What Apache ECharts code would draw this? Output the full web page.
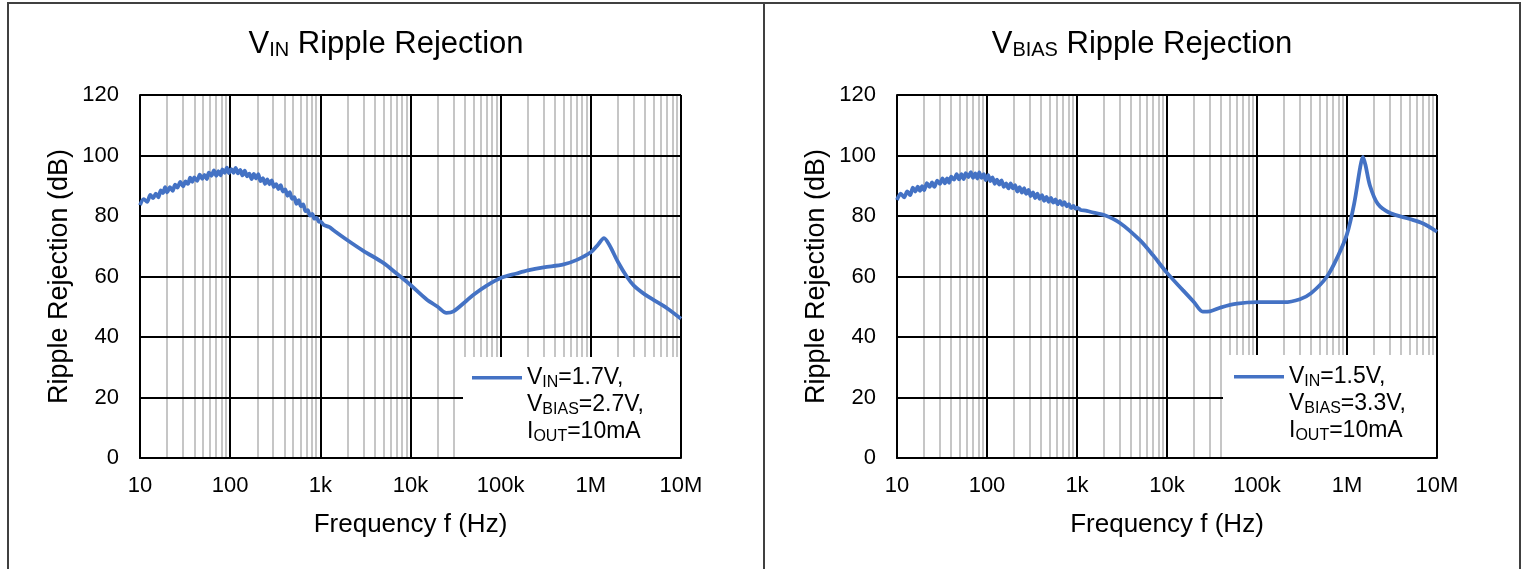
<!DOCTYPE html>
<html>
<head>
<meta charset="utf-8">
<script src="https://cdn.jsdelivr.net/npm/echarts@6/dist/echarts.min.js"></script>
<style>
  html, body { margin: 0; padding: 0; background: #fff; }
  #main { width: 1528px; height: 569px; }
</style>
</head>
<body>
<div id="main"></div>
<script>
// x axis decades and their labels
var xTicks = [10, 100, 1e3, 1e4, 1e5, 1e6, 1e7];
var xTickLabels = ['10', '100', '1k', '10k', '100k', '1M', '10M'];

// shared frequency grid for the noisy low-frequency part (Hz)
var lowFreq = [10, 11, 12, 13, 14, 15, 16, 17, 18, 19, 20, 21.5, 23, 24.5, 26, 28, 30, 32, 34, 36, 38, 40,
  43, 46, 49, 52, 55, 58, 62, 66, 70, 74, 78, 82, 87, 92, 97, 103, 109, 115, 122, 129, 137, 145, 154,
  163, 173, 183, 194, 205, 217, 230, 244, 258, 273, 289, 306, 324, 343, 363, 385, 408, 432, 458, 485,
  514, 544, 576, 610, 646, 684, 725, 768, 813, 861, 912, 966, 1000, 1100, 1250, 1400];

// left chart: VIN ripple rejection (VIN=1.7V, VBIAS=2.7V, IOUT=10mA)
var vinLowDb = [83.6, 85.6, 84.7, 87.0, 85.9, 87.4, 86.2, 88.5, 87.6, 89.5, 87.8, 89.5, 88.3, 90.4, 89.4, 91.3, 89.8, 91.4, 90.6, 92.7, 91.3, 92.8,
  91.6, 93.7, 92.3, 93.6, 92.2, 94.3, 93.3, 95.1, 93.3, 94.8, 93.4, 95.4, 94.3, 96.0, 94.2, 95.5, 94.3, 95.9, 94.1, 95.2, 93.4, 95.0, 93.1,
  94.0, 92.2, 93.9, 92.4, 93.8, 91.5, 92.5, 90.6, 92.1, 90.5, 91.8, 89.6, 90.5, 88.9, 90.2, 88.1, 88.8, 86.7, 87.9, 85.7,
  86.2, 84.0, 85.2, 83.2, 83.8, 81.6, 81.9, 80.1, 80.7, 79.1, 79.4, 78.1, 78.2, 77.0, 76.4, 75.3];
var vinHighFreq = [2000, 3000, 5000, 7000, 10000, 15000, 20000, 25000, 30000, 40000, 50000, 70000,
  100000, 150000, 200000, 300000, 500000, 700000, 1000000, 1200000, 1400000, 1600000, 2000000,
  2500000, 3000000, 4000000, 5000000, 7000000, 10000000];
var vinHighDb = [72.0, 68.5, 64.5, 61.0, 57.2, 52.5, 50.0, 48.0, 48.5, 51.5, 54.0, 57.0,
  59.5, 61.0, 62.0, 63.0, 64.0, 65.5, 68.0, 70.5, 72.7, 70.5, 64.8,
  60.0, 57.0, 54.0, 52.2, 49.5, 46.0];

// right chart: VBIAS ripple rejection (VIN=1.5V, VBIAS=3.3V, IOUT=10mA)
var biasLowDb = [85.3, 87.4, 86.2, 88.1, 86.9, 89.4, 88.1, 89.7, 88.3, 89.9, 88.5, 90.9, 89.6, 91.1, 89.6, 91.7, 90.6, 92.4, 90.8, 92.4, 91.0, 93.0,
  92.0, 93.8, 92.1, 93.8, 92.2, 94.2, 92.9, 94.5, 92.6, 94.1, 92.4, 94.4, 92.6, 93.8, 91.9, 93.5, 91.5, 92.8, 90.6, 92.0, 90.4, 91.8, 89.6,
  90.8, 89.1, 90.8, 89.1, 90.2, 88.1, 89.5, 87.7, 89.2, 87.3, 88.6, 86.6, 87.8, 85.9, 87.4, 85.7, 86.9, 85.0, 86.3, 84.7,
  86.0, 84.4, 85.5, 83.9, 85.0, 83.6, 84.6, 83.2, 83.9, 82.6, 83.3, 82.4, 82.8, 82.0, 81.8, 81.4];
var biasHighFreq = [2000, 3000, 5000, 7000, 10000, 15000, 20000, 25000, 30000, 40000, 60000,
  100000, 200000, 300000, 400000, 600000, 800000, 1000000, 1200000, 1400000, 1500000, 1600000,
  1800000, 2200000, 3000000, 5000000, 7000000, 10000000];
var biasHighDb = [80.3, 77.7, 72.0, 67.0, 61.2, 55.5, 51.5, 48.4, 48.5, 49.8, 51.0,
  51.5, 51.5, 52.5, 54.5, 60.0, 67.0, 74.0, 84.0, 96.0, 99.5, 97.0,
  90.0, 84.0, 81.0, 79.0, 77.5, 74.8];

var blue = '#4472C4';
var font = '"Liberation Sans", Arial, sans-serif';

// minor log gridlines 2..9 in every decade
var minorLines = [];
for (var d = 10; d < 1e7; d *= 10) {
  for (var m = 2; m <= 9; m++) minorLines.push({ xAxis: m * d });
}

function pairs(fs, vs) {
  return fs.map(function (f, i) { return [f, vs[i]]; });
}

function xAxisOpt(idx) {
  return {
    type: 'log', logBase: 10, gridIndex: idx, min: 10, max: 1e7, z: 2,
    axisLine: { lineStyle: { color: '#000', width: 2 } },
    axisTick: { show: false },
    splitLine: { show: true, lineStyle: { color: '#000', width: 2 } },
    axisLabel: {
      color: '#000', fontSize: 22, fontFamily: font, margin: 17,
      formatter: function (v) {
        var i = xTicks.indexOf(Math.round(v));
        return i >= 0 ? xTickLabels[i] : '';
      }
    },
    name: 'Frequency f (Hz)', nameLocation: 'middle', nameGap: 54,
    nameTextStyle: { color: '#000', fontSize: 26, fontFamily: font }
  };
}

function yAxisOpt(idx) {
  return {
    type: 'value', gridIndex: idx, min: 0, max: 120, interval: 20, z: 2,
    axisLine: { show: true, lineStyle: { color: '#000', width: 2 } },
    axisTick: { show: false },
    splitLine: { lineStyle: { color: '#000', width: 2 } },
    axisLabel: { color: '#000', fontSize: 22, fontFamily: font, margin: 21 },
    name: 'Ripple Rejection (dB)', nameLocation: 'middle', nameGap: 67,
    nameTextStyle: { color: '#000', fontSize: 27, fontFamily: font }
  };
}

function lineSeries(name, idx, data) {
  return {
    name: name, type: 'line', xAxisIndex: idx, yAxisIndex: idx,
    data: data, showSymbol: false, symbol: 'none', smooth: 0.3, z: 3,
    lineStyle: { color: blue, width: 3.8 }, itemStyle: { color: blue },
    markLine: {
      silent: true, symbol: ['none', 'none'], z: 1,
      label: { show: false },
      lineStyle: { color: '#c0c0c0', width: 1.8, type: 'solid' },
      data: minorLines
    }
  };
}

var richTitle = {
  v: { fontSize: 31, lineHeight: 31, fontFamily: font, color: '#000' },
  s: { fontSize: 20, lineHeight: 12, verticalAlign: 'bottom', fontFamily: font, color: '#000' }
};
var richLegend = {
  n: { fontSize: 23, lineHeight: 27, fontFamily: font, color: '#000' },
  s: { fontSize: 16, lineHeight: 12, verticalAlign: 'bottom', fontFamily: font, color: '#000' }
};
var legendIcon = 'path://M0,0L0.01,0L0,0.01Z M0,12H50V15.6H0Z M50,81L49.99,81L50,80.99Z';

function legendOpt(name, left, top, text) {
  return {
    data: [name], left: left, top: top, padding: 0, orient: 'vertical',
    selectedMode: false, z: 4,
    icon: legendIcon, itemWidth: 50, itemHeight: 81, itemGap: 0, symbolKeepAspect: false,
    itemStyle: { color: blue, borderWidth: 0 },
    textStyle: { rich: richLegend },
    formatter: function () { return text; }
  };
}

function whiteBox(x, y, w, h) {
  return { type: 'rect', shape: { x: x, y: y, width: w, height: h }, style: { fill: '#fff' }, z: 3, silent: true };
}

function frame(x) {
  return { type: 'rect', shape: { x: x, y: 3, width: 756, height: 590 },
    style: { fill: 'none', stroke: '#404040', lineWidth: 2 }, z: 10, silent: true };
}

var chart = echarts.init(document.getElementById('main'), null, { renderer: 'canvas' });
chart.setOption({
  animation: false,
  backgroundColor: '#fff',
  title: [
    { text: '{v|V}{s|IN}{v| Ripple Rejection}', left: 386, top: 29, padding: 0, textAlign: 'center',
      textStyle: { rich: richTitle, fontWeight: 'normal' } },
    { text: '{v|V}{s|BIAS}{v| Ripple Rejection}', left: 1142, top: 29, padding: 0, textAlign: 'center',
      textStyle: { rich: richTitle, fontWeight: 'normal' } }
  ],
  grid: [
    { left: 140, top: 95, width: 541, height: 363 },
    { left: 897, top: 95, width: 540, height: 363 }
  ],
  xAxis: [xAxisOpt(0), xAxisOpt(1)],
  yAxis: [yAxisOpt(0), yAxisOpt(1)],
  legend: [
    legendOpt('vin', 472, 364,
      '{n|V}{s|IN}{n|=1.7V,}\n{n|V}{s|BIAS}{n|=2.7V,}\n{n|I}{s|OUT}{n|=10mA}'),
    legendOpt('bias', 1234, 363,
      '{n|V}{s|IN}{n|=1.5V,}\n{n|V}{s|BIAS}{n|=3.3V,}\n{n|I}{s|OUT}{n|=10mA}')
  ],
  graphic: [
    whiteBox(463, 357, 217, 100),
    whiteBox(1223, 355, 213, 102),
    frame(8),
    frame(764)
  ],
  series: [
    lineSeries('vin', 0, pairs(lowFreq.concat(vinHighFreq), vinLowDb.concat(vinHighDb))),
    lineSeries('bias', 1, pairs(lowFreq.concat(biasHighFreq), biasLowDb.concat(biasHighDb)))
  ]
});
window.addEventListener('resize', function () { chart.resize(); });
</script>
</body>
</html>
